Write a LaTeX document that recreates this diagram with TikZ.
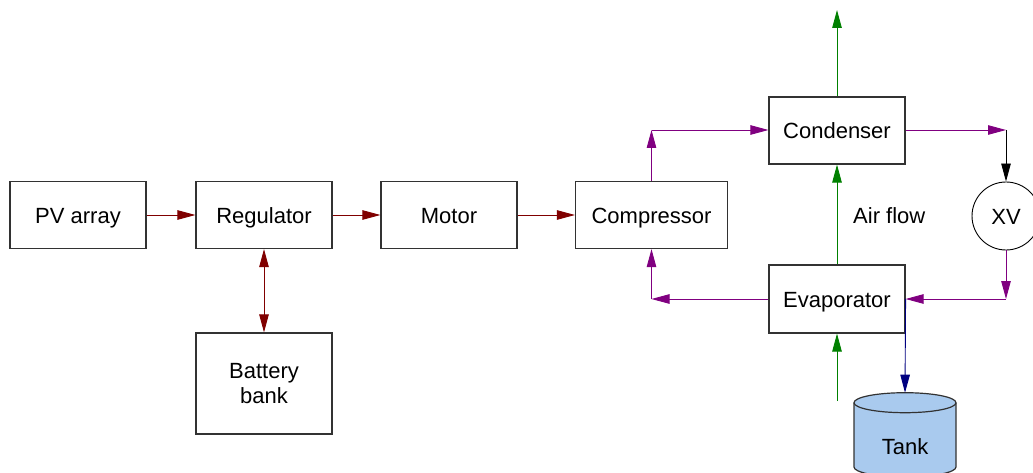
\documentclass[tikz,border=0pt]{standalone}
\usepackage{fontspec}
\setmainfont{Liberation Sans}
\usetikzlibrary{arrows.meta}
\definecolor{dred}{RGB}{128,0,0}
\definecolor{dpurple}{RGB}{128,0,128}
\definecolor{dgreen}{RGB}{0,128,0}
\definecolor{dblue}{RGB}{0,0,128}
\definecolor{tankfill}{RGB}{169,202,238}
\definecolor{edge}{RGB}{50,50,50}
\begin{document}
\begin{tikzpicture}[x=1pt,y=1pt,
  font=\fontsize{22}{24.5}\selectfont,
  blk/.style={draw=edge,line width=1.2pt,fill=white,inner sep=0pt,minimum width=136pt,minimum height=67pt,align=center},
  oneline/.style={text height=16pt,text depth=0pt},
  conn/.style={line width=0.9pt,-{Triangle[length=18pt,width=9.5pt]}},
  biconn/.style={line width=0.9pt,{Triangle[length=18pt,width=9.5pt]}-{Triangle[length=18pt,width=9.5pt]}}
]
\useasboundingbox (0,0) rectangle (1033,-473);
% blocks
\node[blk,oneline] (pv) at (78,-215) {PV array};
\node[blk,oneline] (reg) at (264,-215) {Regulator};
\node[blk,oneline] (mot) at (449,-215) {Motor};
\node[blk,oneline,minimum width=152pt] (comp) at (651.5,-215) {Compressor};
\node[blk,oneline] (cond) at (837,-130.5) {Condenser};
\node[blk,oneline,minimum height=68pt] (evap) at (837,-299) {Evaporator};
\node[blk,minimum height=101pt] (bat) at (264,-383.5) {Battery\\bank};
\node[draw=black,line width=0.9pt,circle,minimum size=68pt,inner sep=0pt,oneline] (xv) at (1006,-216) {XV};
\node[anchor=west,oneline,inner sep=0pt] (air) at (853,-215) {Air flow};
% tank
\draw[draw=edge,line width=1.2pt,fill=tankfill] (854,-402.7) -- (854,-467)
  arc[start angle=180,end angle=360,x radius=51pt,y radius=10pt] -- (956,-402.7)
  arc[start angle=0,end angle=180,x radius=51pt,y radius=10pt] -- cycle;
\draw[draw=edge,line width=1.2pt] (854,-402.7) arc[start angle=180,end angle=360,x radius=51pt,y radius=10pt];
\node[oneline,inner sep=0pt] (tank) at (905,-446.5) {Tank};
\coordinate (tanktop) at (905,-392.7);
% coordinates
\coordinate (c1) at (651.5,-130);
\coordinate (c2) at (1006,-130);
\coordinate (c3) at (1006,-299);
\coordinate (c4) at (651.5,-299);
\coordinate (gtop) at (837,-10);
\coordinate (gbot) at (837,-401);
% red
\draw[conn,dred] (pv) -- (reg);
\draw[conn,dred] (reg) -- (mot);
\draw[conn,dred] (mot) -- (comp);
\draw[biconn,dred] (reg) -- (bat);
% purple loop
\draw[conn,dpurple] (comp.north) -- (c1);
\draw[conn,dpurple] (c1) -- (cond.west |- c1);
\draw[conn,dpurple] (cond.east |- c2) -- (c2);
\draw[conn,black] (c2) -- (xv.north);
\draw[conn,dpurple] (xv.south) -- (c3);
\draw[conn,dpurple] (c3) -- (evap.east);
\draw[conn,dpurple] (evap.west) -- (c4);
\draw[conn,dpurple] (c4) -- (comp.south);
% green
\draw[conn,dgreen] (cond.north) -- (gtop);
\draw[conn,dgreen] (evap.north) -- (cond.south);
\draw[conn,dgreen] (gbot) -- (evap.south);
% blue
\draw[conn,dblue] (evap.east) -- (tanktop);
\end{tikzpicture}
\end{document}
